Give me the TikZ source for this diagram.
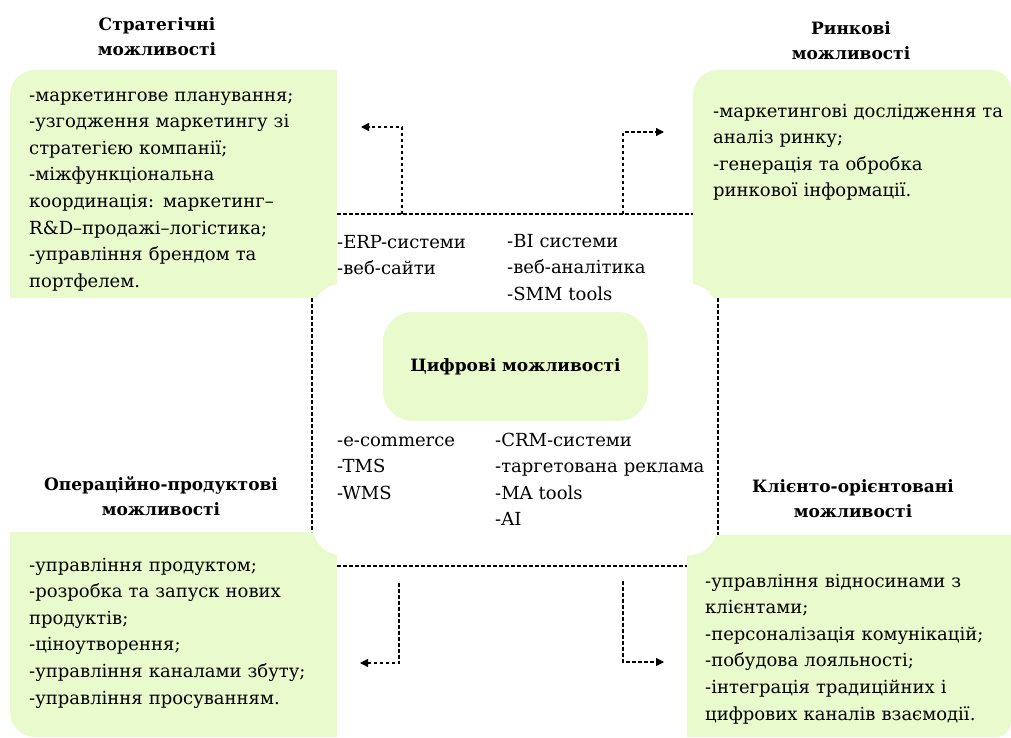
\documentclass[tikz,border=0pt]{standalone}
\usepackage{fontspec}
\setmainfont{DejaVu Serif}
\usepackage{tikz}
\usetikzlibrary{arrows.meta, positioning}
\definecolor{softgreen}{RGB}{233, 250, 205}

\tikzset{
    listtext/.style={anchor=base west, align=left, inner sep=0pt, text width=#1, font=\fontsize{18}{26.6}\selectfont},
    listtext/.default=320pt,
    headtext/.style={align=center, inner sep=0pt, font=\bfseries\fontsize{17}{25}\selectfont},
    frameline/.style={black, line width=1.3pt, dash pattern=on 3.5pt off 2.5pt},
    flowarrow/.style={frameline, -{Triangle[length=8pt, width=8pt]}}
}

\begin{document}
\begin{tikzpicture}[x=1pt, y=1pt]
        \useasboundingbox (0,0) rectangle (1011,-737);
        % green corner boxes
        \fill[softgreen] (10,-298) -- (10,-95) arc[start angle=180, end angle=90, radius=25] -- (337,-70) -- (337,-298) -- cycle;
        \fill[softgreen] (693,-298) -- (693,-95) arc[start angle=180, end angle=90, radius=25] -- (991,-70) arc[start angle=90, end angle=0, radius=20] -- (1011,-298) -- cycle;
        \fill[softgreen] (10,-532) -- (337,-532) -- (337,-737) -- (35,-737) arc[start angle=270, end angle=180, radius=25] -- cycle;
        \fill[softgreen] (687,-535) -- (1011,-535) -- (1011,-722) arc[start angle=0, end angle=-90, radius=15] -- (687,-737) -- cycle;
        \node (digitalFrame) [fill=white, rounded corners=28pt, minimum width=404pt, minimum height=271pt, inner sep=0pt] at (515,-419.5) {};
        \node (digitalCore) [fill=softgreen, rounded corners=30pt, minimum width=265pt, minimum height=109pt, headtext] at (515.5,-366.5) {Цифрові можливості};

        % dotted frame round the digital block
        \coordinate (frameTL) at (312,-214);
        \coordinate (frameTR) at (718,-214);
        \coordinate (frameBL) at (312,-566);
        \coordinate (frameBR) at (718,-566);
        \draw[frameline] (frameTL -| 337,0) -- (frameTR -| 693,0);
        \draw[frameline] (frameBL -| 337,0) -- (frameBR -| 687,0);
        \draw[frameline] (frameTL |- 0,-298) -- (frameBL |- 0,-532);
        \draw[frameline] (frameTR |- 0,-298) -- (frameBR |- 0,-535);

        % arrows to the four groups
        \coordinate (toStrat) at (361,-127);
        \coordinate (toMarket) at (664,-132);
        \coordinate (toOper) at (360,-663);
        \coordinate (toClient) at (664,-662);
        \draw[flowarrow] (402,-214) |- (toStrat);
        \draw[flowarrow] (623,-214) |- (toMarket);
        \draw[flowarrow] (399,-583) |- (toOper);
        \draw[flowarrow] (623,-581) |- (toClient);

        % headings
        \node (stratHead) [headtext] at (157,-37) {Стратегічні\\можливості};
        \node (marketHead) [headtext] at (851,-41) {Ринкові\\можливості};
        \node (operHead) [headtext] at (161,-496) {Операційно-продуктові\\можливості};
        \node (clientHead) [headtext] at (853,-499) {Клієнто-орієнтовані\\можливості};

        % group contents
        \node (stratText) [listtext] at (29,-101) {-маркетингове планування;\\-узгодження маркетингу зі\\стратегією компанії;\\-міжфункціональна\\координація: маркетинг–\\R\&D–продажі–логістика;\\-управління брендом та\\портфелем.};
        \node (marketText) [listtext] at (713,-117) {-маркетингові дослідження та\\аналіз ринку;\\-генерація та обробка\\ринкової інформації.};
        \node (operText) [listtext] at (29,-571) {-управління продуктом;\\-розробка та запуск нових\\продуктів;\\-ціноутворення;\\-управління каналами збуту;\\-управління просуванням.};
        \node (clientText) [listtext] at (705,-587) {-управління відносинами з\\клієнтами;\\-персоналізація комунікацій;\\-побудова лояльності;\\-інтеграція традиційних і\\цифрових каналів взаємодії.};

        % digital tools
        \node (toolsTL) [listtext=150pt] at (337,-248) {-ERP-системи\\-веб-сайти};
        \node (toolsTR) [listtext=200pt] at (507,-247) {-BI системи\\-веб-аналітика\\-SMM tools};
        \node (toolsBL) [listtext=150pt] at (337,-446) {-e-commerce\\-TMS\\-WMS};
        \node (toolsBR) [listtext=220pt] at (495,-446) {-CRM-системи\\-таргетована реклама\\-MA tools\\-AI};
    \end{tikzpicture}
\end{document}
